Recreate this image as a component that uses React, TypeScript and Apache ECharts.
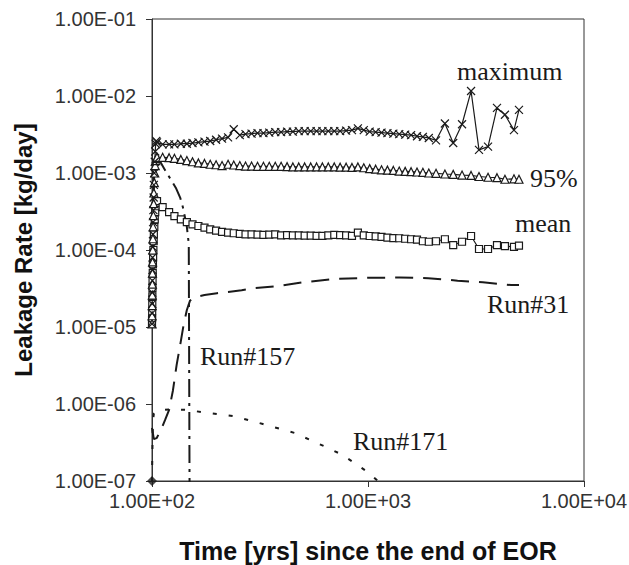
import { useEffect, useRef } from "react";
import * as echarts from "echarts";

// Time [yrs] for the statistical curves (maximum, 95%, mean)
const times = [100, 100.1, 100.2, 100.3, 100.4, 100.5, 100.6, 100.8, 101, 101.2, 101.5, 101.8, 102, 102.5, 103, 103.5, 104, 104.7, 105.5, 112, 120, 127, 136, 145, 154, 164, 175, 186, 198, 211, 225, 239, 255, 271, 289, 308, 328, 349, 372, 396, 422, 449, 478, 509, 543, 578, 615, 655, 698, 743, 792, 843, 898, 956, 1018, 1085, 1155, 1230, 1310, 1395, 1486, 1583, 1686, 1795, 1912, 2065, 2270, 2480, 2725, 3000, 3265, 3595, 3955, 4305, 4740, 5000];

const maxValues = [
  1.1e-5, 1.5e-5, 2e-5, 2.8e-5, 4e-5, 5.5e-5, 8e-5, 1.1e-4, 1.6e-4, 2.3e-4, 3.3e-4, 4.8e-4, 7e-4, 1e-3, 1.4e-3, 1.9e-3, 2.4e-3, 2.6e-3, 2.5e-3,
  2.35e-3, 2.35e-3, 2.35e-3, 2.4e-3, 2.4e-3, 2.45e-3, 2.5e-3, 2.55e-3, 2.6e-3, 2.7e-3, 2.8e-3,
  2.9e-3, 3.7e-3, 3.1e-3, 3.2e-3, 3.25e-3, 3.3e-3, 3.3e-3, 3.35e-3, 3.4e-3, 3.4e-3,
  3.45e-3, 3.45e-3, 3.5e-3, 3.5e-3, 3.5e-3, 3.5e-3, 3.5e-3, 3.5e-3, 3.5e-3, 3.5e-3,
  3.55e-3, 3.6e-3, 3.8e-3, 3.6e-3, 3.45e-3, 3.4e-3, 3.35e-3, 3.3e-3, 3.25e-3, 3.2e-3,
  3.15e-3, 3.1e-3, 3.0e-3, 2.95e-3, 2.85e-3, 2.65e-3,
  4.4e-3, 2.45e-3, 4.3e-3, 1.16e-2, 2.0e-3, 2.2e-3, 7.0e-3, 5.7e-3, 3.6e-3, 6.6e-3,
];

const p95Values = [
  1.1e-5, 1.4e-5, 1.9e-5, 2.6e-5, 3.6e-5, 5e-5, 7e-5, 1e-4, 1.4e-4, 2e-4, 2.8e-4, 4e-4, 5.5e-4, 7.5e-4, 1e-3, 1.25e-3, 1.45e-3, 1.55e-3, 1.6e-3,
  1.6e-3, 1.58e-3, 1.55e-3, 1.5e-3, 1.45e-3, 1.4e-3, 1.35e-3, 1.33e-3, 1.3e-3, 1.28e-3, 1.25e-3,
  1.3e-3, 1.27e-3, 1.25e-3, 1.23e-3, 1.23e-3, 1.22e-3, 1.22e-3, 1.22e-3, 1.22e-3, 1.22e-3,
  1.21e-3, 1.2e-3, 1.2e-3, 1.2e-3, 1.2e-3, 1.2e-3, 1.2e-3, 1.2e-3, 1.2e-3, 1.19e-3,
  1.19e-3, 1.18e-3, 1.2e-3, 1.17e-3, 1.14e-3, 1.12e-3, 1.1e-3, 1.09e-3, 1.08e-3, 1.06e-3,
  1.05e-3, 1.04e-3, 1.03e-3, 1.02e-3, 1.0e-3, 9.9e-4,
  9.7e-4, 9.6e-4, 9.4e-4, 9.3e-4, 9.0e-4, 8.8e-4, 8.7e-4, 8.3e-4, 8.4e-4, 8.3e-4,
];

const meanValues = [
  1.1e-5, 1.3e-5, 1.6e-5, 2e-5, 2.5e-5, 3.2e-5, 4e-5, 5e-5, 6.5e-5, 8e-5, 1e-4, 1.3e-4, 1.6e-4, 2e-4, 2.5e-4, 3.1e-4, 3.7e-4, 4.1e-4, 4.3e-4,
  3.6e-4, 3.1e-4, 2.75e-4, 2.5e-4, 2.3e-4, 2.15e-4, 2.05e-4, 1.95e-4, 1.85e-4, 1.78e-4, 1.72e-4,
  1.68e-4, 1.65e-4, 1.62e-4, 1.6e-4, 1.6e-4, 1.58e-4, 1.57e-4, 1.58e-4, 1.6e-4, 1.55e-4,
  1.56e-4, 1.55e-4, 1.55e-4, 1.54e-4, 1.54e-4, 1.53e-4, 1.53e-4, 1.55e-4, 1.57e-4, 1.56e-4,
  1.55e-4, 1.53e-4, 1.68e-4, 1.55e-4, 1.52e-4, 1.5e-4, 1.48e-4, 1.45e-4, 1.43e-4, 1.42e-4,
  1.4e-4, 1.38e-4, 1.36e-4, 1.3e-4, 1.28e-4, 1.3e-4,
  1.38e-4, 1.16e-4, 1.28e-4, 1.52e-4, 1.03e-4, 1.03e-4, 1.16e-4, 1.12e-4, 1.1e-4, 1.14e-4,
];

const run31Times = [100, 102, 105, 110, 115, 120, 125, 130, 135, 140, 145, 150, 160, 175, 200, 225, 260, 300, 380, 500, 700, 1000, 1400, 1900, 2600, 3400, 4600, 5000];
const run31Values = [4.9e-7, 3.5e-7, 3.6e-7, 4.6e-7, 6.2e-7, 8.4e-7, 1.5e-6, 3.2e-6, 5.8e-6, 1.06e-5, 1.66e-5, 2.2e-5, 2.45e-5, 2.6e-5, 2.75e-5, 2.85e-5, 3.0e-5, 3.2e-5, 3.4e-5, 3.8e-5, 4.2e-5, 4.35e-5, 4.4e-5, 4.3e-5, 4.0e-5, 3.8e-5, 3.5e-5, 3.5e-5];

const run157Times = [100, 101, 102, 103, 105, 110, 117, 123, 129, 135, 139, 145, 148, 150];
const run157Values = [1.1e-5, 2e-4, 8e-4, 1.4e-3, 1.6e-3, 1.35e-3, 1.0e-3, 8e-4, 6.4e-4, 4.8e-4, 3.6e-4, 2.0e-4, 1.2e-4, 1e-9];

const run171Times = [100, 100.3, 100.7, 101, 102, 105, 120, 145, 172, 237, 326, 458, 632, 758, 870, 1000, 1160];
const run171Values = [1e-7, 2e-7, 4e-7, 6e-7, 7.5e-7, 8.2e-7, 8.5e-7, 8.4e-7, 7.8e-7, 7e-7, 5.5e-7, 4.2e-7, 2.8e-7, 2.2e-7, 1.7e-7, 1.3e-7, 9e-8];

const yTicks = [1e-7, 1e-6, 1e-5, 1e-4, 1e-3, 1e-2, 1e-1];
const yTickLabels = ["1.00E-07", "1.00E-06", "1.00E-05", "1.00E-04", "1.00E-03", "1.00E-02", "1.00E-01"];
const xTicks = [100, 1000, 10000];
const xTickLabels = ["1.00E+02", "1.00E+03", "1.00E+04"];

const seriesNames = ["maximum", "95%", "mean", "Run#31", "Run#157", "Run#171"];

const lookup = (ticks: number[], labels: string[], v: number) => {
  const i = ticks.findIndex((t) => Math.abs(Math.log10(t) - Math.log10(v)) < 1e-6);
  return i >= 0 ? labels[i] : "";
};

const pairs = (xs: number[], ys: number[]) => xs.map((x, i) => [x, ys[i]]);

export default function App() {
  const ref = useRef<HTMLDivElement>(null);
  useEffect(() => {
    if (!ref.current) return;
    const chart = echarts.init(ref.current, null, { renderer: "svg" });
    const ink = "#1a1a1a";
    const labelFont = { fontFamily: "Liberation Sans", fontSize: 20, color: "#333" };
    const nameFont = { fontFamily: "Liberation Sans", fontSize: 24, fontWeight: "bold" as const, color: "#111" };
    const annFont = '26px "Liberation Serif"';
    const ann = (text: string, x: number, y: number) => ({
      type: "text",
      x,
      y,
      style: { text, font: annFont, fill: ink, verticalAlign: "middle", align: "left" },
      z: 100,
    });
    chart.setOption({
      animation: false,
      backgroundColor: "#fff",
      grid: {
        left: 152,
        right: 45,
        top: 19,
        bottom: 84,
        outerBoundsMode: "none",
        containLabel: false,
        show: true,
        borderColor: "#333",
        borderWidth: 1,
        backgroundColor: "transparent",
      },
      xAxis: {
        type: "log",
        logBase: 10,
        min: 100,
        max: 10000,
        interval: 1,
        splitNumber: 2,
        name: "Time [yrs] since the end of EOR",
        nameLocation: "middle",
        nameGap: 57,
        nameTextStyle: { ...nameFont, fontSize: 25 },
        axisLine: { show: true, lineStyle: { color: "#333", width: 1 } },
        axisTick: { show: true, inside: false, length: 6, lineStyle: { color: "#333" } },
        axisLabel: { ...labelFont, margin: 10, formatter: (v: number) => lookup(xTicks, xTickLabels, v) },
        splitLine: { show: false },
        minorTick: { show: false },
      },
      yAxis: {
        type: "log",
        logBase: 10,
        min: 1e-7,
        max: 1e-1,
        interval: 1,
        splitNumber: 6,
        name: "Leakage Rate [kg/day]",
        nameLocation: "middle",
        nameGap: 117,
        nameTextStyle: nameFont,
        axisLine: { show: true, lineStyle: { color: "#333", width: 1 } },
        axisTick: { show: true, inside: false, length: 6, lineStyle: { color: "#333" } },
        axisLabel: { ...labelFont, margin: 16, formatter: (v: number) => lookup(yTicks, yTickLabels, v) },
        splitLine: { show: false },
        minorTick: { show: false },
      },
      series: [
        {
          name: seriesNames[3],
          type: "line",
          data: pairs(run31Times, run31Values),
          showSymbol: false,
          symbol: "none",
          lineStyle: { color: ink, width: 2, type: [18, 10] },
          z: 2,
        },
        {
          name: seriesNames[4],
          type: "line",
          data: pairs(run157Times, run157Values),
          showSymbol: false,
          symbol: "none",
          lineStyle: { color: ink, width: 2, type: [18, 6, 3, 6] },
          z: 2,
        },
        {
          name: seriesNames[5],
          type: "line",
          data: pairs(run171Times, run171Values),
          showSymbol: false,
          symbol: "none",
          lineStyle: { color: ink, width: 2, type: [4, 12] },
          z: 2,
        },
        {
          name: seriesNames[5] + " start",
          type: "scatter",
          data: [[run171Times[0], run171Values[0]]],
          symbol: "diamond",
          symbolSize: 10,
          clip: false,
          itemStyle: { color: ink },
          z: 5,
        },
        {
          name: seriesNames[2],
          type: "line",
          data: pairs(times, meanValues),
          showAllSymbol: true,
          symbol: "rect",
          symbolSize: 7,
          itemStyle: { color: "#fff", borderColor: ink, borderWidth: 1.2 },
          lineStyle: { color: ink, width: 1.2 },
          z: 3,
        },
        {
          name: seriesNames[1],
          type: "line",
          data: pairs(times, p95Values),
          showAllSymbol: true,
          symbol: "triangle",
          symbolSize: 8,
          itemStyle: { color: "#fff", borderColor: ink, borderWidth: 1.2 },
          lineStyle: { color: ink, width: 1.2 },
          z: 3,
        },
        {
          name: seriesNames[0],
          type: "line",
          data: pairs(times, maxValues),
          showAllSymbol: true,
          symbol: "path://M0,0L10,10M10,0L0,10",
          symbolSize: 8,
          itemStyle: { color: "transparent", borderColor: ink, borderWidth: 1.2 },
          lineStyle: { color: ink, width: 1.2 },
          z: 3,
        },
      ],
      graphic: [
        ann(seriesNames[0], 457, 71),
        ann(seriesNames[1], 530, 178),
        ann(seriesNames[2], 515, 223),
        ann(seriesNames[3], 487, 304),
        ann(seriesNames[4], 200, 356),
        ann(seriesNames[5], 353, 441),
      ],
    });
    return () => chart.dispose();
  }, []);
  return <div ref={ref} style={{ position: "fixed", left: 0, top: 0, width: 629, height: 565, background: "#fff" }} />;
}
